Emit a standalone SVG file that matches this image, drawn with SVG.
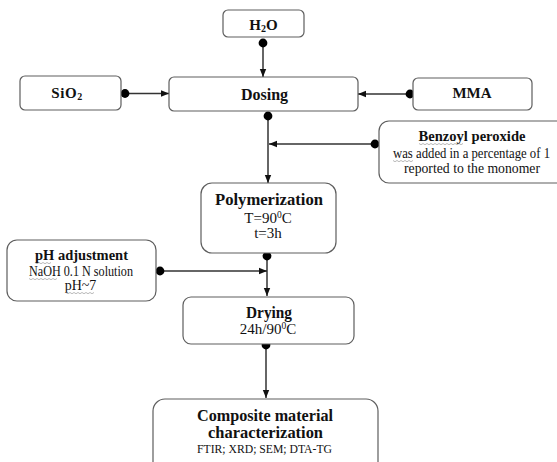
<svg xmlns="http://www.w3.org/2000/svg" width="557" height="462" viewBox="0 0 557 462">
<defs>
<marker id="arrow" markerUnits="userSpaceOnUse" markerWidth="8" markerHeight="8" viewBox="0 0 8 8" refX="8" refY="4" orient="auto">
<path d="M0,0.8 L8,4 L0,7.2 Z" fill="#111"/>
</marker>
<marker id="dot" markerUnits="userSpaceOnUse" markerWidth="10" markerHeight="10" viewBox="0 0 10 10" refX="5" refY="5" orient="auto">
<circle cx="5" cy="5" r="4.4" fill="#000"/>
</marker>
</defs>
<style>
.box{fill:#fff;stroke:#5e5e5e;stroke-width:1.2}
.t{font-family:"Liberation Serif","Times New Roman",serif;fill:#111;text-anchor:middle}
.b{font-weight:bold}
.c{fill:none;stroke:#333;stroke-width:1.5;marker-start:url(#dot);marker-end:url(#arrow)}
.sq{fill:none;stroke:#8a8a8a;stroke-width:0.6}
</style>
<rect width="557" height="462" fill="#fff"/>
<g id="connectors">
<line class="c" x1="263" y1="43" x2="263" y2="77"/>
<line class="c" x1="125" y1="93.5" x2="169" y2="93.5"/>
<line class="c" x1="410" y1="94" x2="358" y2="94"/>
<line class="c" x1="268" y1="116" x2="268" y2="183"/>
<line class="c" x1="375" y1="144" x2="269" y2="144"/>
<line class="c" x1="267" y1="256" x2="267" y2="296"/>
<line class="c" x1="160" y1="271" x2="267" y2="271"/>
<line class="c" x1="266" y1="345" x2="266" y2="398"/>
</g>
<g id="h2o">
<rect class="box" x="223" y="10" width="81" height="27" rx="5"/>
<text class="t b" x="263.5" y="30" font-size="15">H<tspan font-size="10" dy="2">2</tspan><tspan dy="-2">O</tspan></text>
</g>
<g id="sio2">
<rect class="box" x="20" y="76" width="101" height="34" rx="5"/>
<text class="t b" x="67" y="98" font-size="15" letter-spacing="0.6">SiO<tspan font-size="10" dy="2">2</tspan></text>
</g>
<g id="dosing">
<rect class="box" x="169" y="77" width="189" height="34" rx="5"/>
<text class="t b" x="264.5" y="100" font-size="16">Dosing</text>
</g>
<g id="mma">
<rect class="box" x="413" y="78" width="119" height="32" rx="5"/>
<text class="t b" x="472" y="98" font-size="15">MMA</text>
</g>
<g id="benzoyl">
<rect class="box" x="379" y="121" width="192" height="62" rx="10"/>
<text class="t b" x="472" y="141" font-size="15" textLength="107" lengthAdjust="spacingAndGlyphs">Benzoyl peroxide</text>
<text class="t" x="471.5" y="158" font-size="14" textLength="157" lengthAdjust="spacingAndGlyphs">was added in a percentage of 1</text>
<text class="t" x="472" y="173" font-size="14" textLength="136" lengthAdjust="spacingAndGlyphs">reported to the monomer</text>
<path class="sq" d="M419,143.5 l2,1.2 l2,-1.2 l2,1.2 l2,-1.2 l2,1.2 l2,-1.2 l2,1.2 l2,-1.2 l2,1.2 l2,-1.2 l2,1.2 l2,-1.2 l2,1.2 l2,-1.2 l2,1.2 l2,-1.2 l2,1.2 l2,-1.2 l2,1.2 l2,-1.2 l2,1.2 l2,-1.2"/>
<path class="sq" d="M393,160.5 l2,1.2 l2,-1.2 l2,1.2 l2,-1.2 l2,1.2 l2,-1.2 l2,1.2 l2,-1.2 l2,1.2 l2,-1.2"/>
</g>
<g id="polymerization">
<rect class="box" x="201" y="183" width="135" height="70" rx="11"/>
<text class="t b" x="269" y="205" font-size="17" textLength="108" lengthAdjust="spacingAndGlyphs">Polymerization</text>
<text class="t" x="268" y="223" font-size="15">T=90<tspan font-size="9.5" dy="-5">0</tspan><tspan dy="5">C</tspan></text>
<text class="t" x="268" y="238" font-size="15">t=3h</text>
</g>
<g id="ph">
<rect class="box" x="7" y="240" width="149" height="61" rx="10"/>
<text class="t b" x="81.5" y="260" font-size="15" textLength="93" lengthAdjust="spacingAndGlyphs">pH adjustment</text>
<text class="t" x="81" y="276" font-size="14" textLength="104" lengthAdjust="spacingAndGlyphs">NaOH 0.1 N solution</text>
<text class="t" x="80.5" y="290" font-size="14">pH~7</text>
<path class="sq" d="M35,262.5 l2,1.2 l2,-1.2 l2,1.2 l2,-1.2 l2,1.2 l2,-1.2 l2,1.2 l2,-1.2"/>
<path class="sq" d="M29,278.5 l2,1.2 l2,-1.2 l2,1.2 l2,-1.2 l2,1.2 l2,-1.2 l2,1.2 l2,-1.2 l2,1.2 l2,-1.2 l2,1.2 l2,-1.2 l2,1.2 l2,-1.2"/>
<path class="sq" d="M66,292.5 l2,1.2 l2,-1.2 l2,1.2 l2,-1.2 l2,1.2 l2,-1.2 l2,1.2 l2,-1.2 l2,1.2 l2,-1.2 l2,1.2 l2,-1.2 l2,1.2 l2,-1.2"/>
</g>
<g id="drying">
<rect class="box" x="183" y="297" width="171" height="47" rx="8"/>
<text class="t b" x="269" y="318" font-size="16" textLength="46" lengthAdjust="spacingAndGlyphs">Drying</text>
<text class="t" x="268" y="334" font-size="15">24h/90<tspan font-size="9.5" dy="-5">0</tspan><tspan dy="5">C</tspan></text>
</g>
<g id="composite">
<rect class="box" x="153" y="399" width="225" height="80" rx="12"/>
<text class="t b" x="265" y="421" font-size="16" textLength="136" lengthAdjust="spacingAndGlyphs">Composite material</text>
<text class="t b" x="265.5" y="438" font-size="16" textLength="115" lengthAdjust="spacingAndGlyphs">characterization</text>
<text class="t" x="264.5" y="453" font-size="13.5" textLength="135" lengthAdjust="spacingAndGlyphs">FTIR; XRD; SEM; DTA-TG</text>
</g>
</svg>
